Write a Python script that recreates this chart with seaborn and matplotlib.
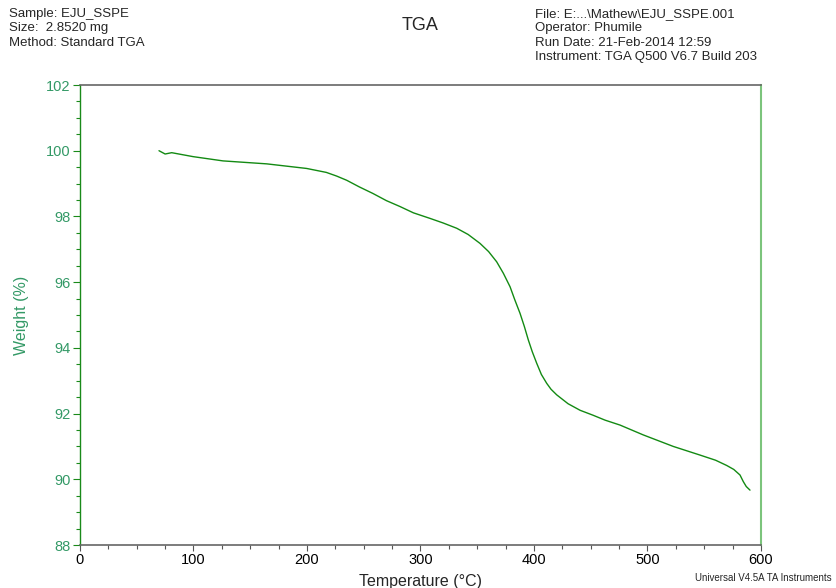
import matplotlib
matplotlib.use("Agg")
import matplotlib.pyplot as plt
import seaborn as sns
import pandas as pd
from matplotlib.ticker import MultipleLocator

temperature = [69.6, 75.0, 80.8, 99.6, 126.0, 164.5, 199.7, 217.0, 226.0, 235.0, 246.0,
               258.0, 270.0, 282.0, 293.7, 308.4, 320.0, 331.9, 342.0, 352.4, 360.0,
               367.1, 373.0, 378.9, 383.0, 387.7, 391.5, 395.0, 398.5, 402.4, 406.5,
               411.2, 415.0, 420.0, 430.0, 440.6, 452.0, 462.6, 475.8, 496.3, 522.7,
               546.0, 560.0, 569.8, 576.0, 581.5, 584.4, 587.0, 590.3]
weight = [100.00, 99.90, 99.94, 99.82, 99.69, 99.60, 99.46, 99.34, 99.23, 99.10, 98.90,
          98.70, 98.48, 98.30, 98.11, 97.94, 97.80, 97.64, 97.45, 97.18, 96.93,
          96.62, 96.27, 95.86, 95.47, 95.05, 94.65, 94.24, 93.88, 93.53, 93.19,
          92.92, 92.74, 92.57, 92.30, 92.10, 91.95, 91.80, 91.65, 91.35, 91.00,
          90.74, 90.58, 90.42, 90.30, 90.13, 89.93, 89.78, 89.67]

x_ticks = [0, 100, 200, 300, 400, 500, 600]
y_ticks = [88, 90, 92, 94, 96, 98, 100, 102]

df = pd.DataFrame({"Temperature": temperature, "Weight": weight})

sns.set_style("white")
plt.rcParams['font.family'] = ['Liberation Sans', 'DejaVu Sans']

fig = plt.figure(figsize=(8.36, 5.88), dpi=100)
ax = fig.add_axes([80/836, 1-545/588, 681/836, 460/588])

green = "#1a8a1a"
sns.lineplot(data=df, x="Temperature", y="Weight", sort=False, color="#138a13",
             linewidth=1.0, ax=ax)

ax.set_xlim(0, 600)
ax.set_ylim(88, 102)
ax.set_xticks(x_ticks)
ax.set_yticks(y_ticks)
ax.xaxis.set_minor_locator(MultipleLocator(25))
ax.yaxis.set_minor_locator(MultipleLocator(0.5))
ax.tick_params(axis='x', which='both', direction='out', bottom=True, colors='#555555',
               labelcolor='black', labelsize=10.5, pad=2)
ax.tick_params(axis='x', which='major', length=4, width=0.8)
ax.tick_params(axis='x', which='minor', length=3, width=0.8)
ax.tick_params(axis='y', which='both', direction='out', left=True, colors=green,
               labelcolor='#339966', labelsize=10.5, pad=2)
ax.tick_params(axis='y', which='major', length=5, width=0.8)
ax.tick_params(axis='y', which='minor', length=3, width=0.8)

ax.set_xlabel("Temperature (°C)", fontsize=11.5, labelpad=5)
ax.set_ylabel("Weight (%)", fontsize=11.5, color="#339966", labelpad=12)

for side, col, lw in [("left", green, 1.0), ("bottom", "#666666", 1.2),
                      ("top", "#666666", 1.2), ("right", "#7cc47c", 1.5)]:
    ax.spines[side].set_visible(True)
    ax.spines[side].set_color(col)
    ax.spines[side].set_linewidth(lw)

fig.text(9/836, 1-8/588, "Sample: EJU_SSPE\nSize:  2.8520 mg\nMethod: Standard TGA",
         ha='left', va='top', fontsize=9.5, linespacing=1.25)
fig.text(420/836, 1-25/588, "TGA", ha='center', va='center', fontsize=13)
fig.text(535/836, 1-8/588,
         "File: E:...\\Mathew\\EJU_SSPE.001\nOperator: Phumile\nRun Date: 21-Feb-2014 12:59\nInstrument: TGA Q500 V6.7 Build 203",
         ha='left', va='top', fontsize=9.5, linespacing=1.25)
fig.text(832/836, 1-578/588, "Universal V4.5A TA Instruments", ha='right', va='center',
         fontsize=7)

fig.savefig("out.png", dpi=100)
